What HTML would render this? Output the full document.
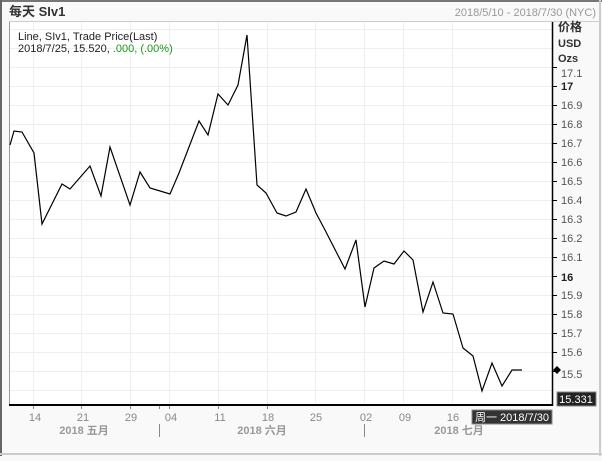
<!DOCTYPE html>
<html><head><meta charset="utf-8"><style>
body{margin:0;width:602px;height:456px;overflow:hidden;background:#f9f9f9;font-family:"Liberation Sans","Noto Sans CJK SC",sans-serif;}
</style></head><body>
<svg width="602" height="456" xmlns="http://www.w3.org/2000/svg" font-family="Liberation Sans, Noto Sans CJK SC, sans-serif">
<rect x="0" y="0" width="602" height="456" fill="#f9f9f9"/>
<rect x="0" y="0" width="602" height="2" fill="#777"/>
<rect x="0" y="0" width="2" height="456" fill="#666"/>
<rect x="0" y="453" width="602" height="2" fill="#ccc"/>
<rect x="599" y="0" width="2" height="456" fill="#ccc"/>
<text x="9" y="16" font-size="13" font-weight="bold" fill="#333">每天 SIv1</text>
<text x="596" y="16" font-size="11" fill="#999" text-anchor="end">2018/5/10 - 2018/7/30 (NYC)</text>
<line x1="9" y1="21.5" x2="599" y2="21.5" stroke="#ccc"/>
<rect x="9" y="22" width="543" height="383" fill="#fff"/>
<g stroke="#efefef" stroke-width="1">
<line x1="9" x2="552" y1="29.5" y2="29.5"/><line x1="9" x2="552" y1="48.5" y2="48.5"/><line x1="9" x2="552" y1="67.5" y2="67.5"/><line x1="9" x2="552" y1="86.5" y2="86.5"/><line x1="9" x2="552" y1="105.5" y2="105.5"/><line x1="9" x2="552" y1="124.5" y2="124.5"/><line x1="9" x2="552" y1="143.5" y2="143.5"/><line x1="9" x2="552" y1="162.5" y2="162.5"/><line x1="9" x2="552" y1="181.5" y2="181.5"/><line x1="9" x2="552" y1="200.5" y2="200.5"/><line x1="9" x2="552" y1="219.5" y2="219.5"/><line x1="9" x2="552" y1="238.5" y2="238.5"/><line x1="9" x2="552" y1="257.5" y2="257.5"/><line x1="9" x2="552" y1="276.5" y2="276.5"/><line x1="9" x2="552" y1="295.5" y2="295.5"/><line x1="9" x2="552" y1="314.5" y2="314.5"/><line x1="9" x2="552" y1="333.5" y2="333.5"/><line x1="9" x2="552" y1="352.5" y2="352.5"/><line x1="9" x2="552" y1="371.5" y2="371.5"/><line x1="9" x2="552" y1="390.5" y2="390.5"/>
<line x1="33.5" x2="33.5" y1="22" y2="405"/><line x1="81.5" x2="81.5" y1="22" y2="405"/><line x1="130.5" x2="130.5" y1="22" y2="405"/><line x1="169.5" x2="169.5" y1="22" y2="405"/><line x1="218.5" x2="218.5" y1="22" y2="405"/><line x1="267.5" x2="267.5" y1="22" y2="405"/><line x1="315.5" x2="315.5" y1="22" y2="405"/><line x1="364.5" x2="364.5" y1="22" y2="405"/><line x1="403.5" x2="403.5" y1="22" y2="405"/><line x1="452.5" x2="452.5" y1="22" y2="405"/>
</g>
<line x1="9.5" y1="22" x2="9.5" y2="405" stroke="#999"/>
<line x1="9" y1="405" x2="553" y2="405" stroke="#000" stroke-width="2"/>
<line x1="552.5" y1="22" x2="552.5" y2="406" stroke="#000" stroke-width="1.5"/>
<text x="18" y="40" font-size="11" fill="#222">Line, SIv1, Trade Price(Last)</text>
<text x="18" y="52" font-size="11" fill="#222">2018/7/25, 15.520, <tspan fill="#1a9a1a">.000, (.00%)</tspan></text>
<polyline fill="none" stroke="#000" stroke-width="1.2" points="10,145 14,131 22,132 34,153 42,224 62,184 70,189 90,166 101,196 110,147 130,205 140,172 150,188 170,194 179,173 199,121 208,135 218,94 228,105 238,85 247,35 257,185 266,193 277,213 286,216 296,212 306,189 316,213 325,230 345,269 356,240 365,307 374,268 384,261 394,264 404,251 413,260 423,312 433,282 443,313 453,314 463,348 473,356 482,391 492,363 502,386 512,370 522,370"/>
<g font-size="11" fill="#444">
<text x="558" y="31" font-size="12" font-weight="bold" fill="#333">价格</text>
<text x="558" y="47" font-weight="bold" fill="#333">USD</text>
<text x="558" y="62" font-weight="bold" fill="#333">Ozs</text>
</g>
<g font-size="11" fill="#555">
<g stroke="#000"><line x1="553" x2="557" y1="67.5" y2="67.5"/><line x1="553" x2="557" y1="86.5" y2="86.5"/><line x1="553" x2="557" y1="105.5" y2="105.5"/><line x1="553" x2="557" y1="124.5" y2="124.5"/><line x1="553" x2="557" y1="143.5" y2="143.5"/><line x1="553" x2="557" y1="162.5" y2="162.5"/><line x1="553" x2="557" y1="181.5" y2="181.5"/><line x1="553" x2="557" y1="200.5" y2="200.5"/><line x1="553" x2="557" y1="219.5" y2="219.5"/><line x1="553" x2="557" y1="238.5" y2="238.5"/><line x1="553" x2="557" y1="257.5" y2="257.5"/><line x1="553" x2="557" y1="276.5" y2="276.5"/><line x1="553" x2="557" y1="295.5" y2="295.5"/><line x1="553" x2="557" y1="314.5" y2="314.5"/><line x1="553" x2="557" y1="333.5" y2="333.5"/><line x1="553" x2="557" y1="352.5" y2="352.5"/><line x1="553" x2="557" y1="371.5" y2="371.5"/></g>
<text x="561" y="77">17.1</text>
<text x="561" y="90" font-weight="bold" fill="#222">17</text>
<text x="561" y="109">16.9</text>
<text x="561" y="128">16.8</text>
<text x="561" y="147">16.7</text>
<text x="561" y="166">16.6</text>
<text x="561" y="185">16.5</text>
<text x="561" y="204">16.4</text>
<text x="561" y="223">16.3</text>
<text x="561" y="242">16.2</text>
<text x="561" y="261">16.1</text>
<text x="561" y="281" font-weight="bold" fill="#222">16</text>
<text x="561" y="299">15.9</text>
<text x="561" y="318">15.8</text>
<text x="561" y="337">15.7</text>
<text x="561" y="356">15.6</text>
<text x="561" y="378">15.5</text>
</g>
<path d="M557,366 L561,370 L557,374 L553,370Z" fill="#000"/>
<rect x="557" y="392" width="39" height="14" fill="#222" stroke="#888"/>
<text x="576" y="403" font-size="11" fill="#fff" text-anchor="middle">15.331</text>
<g font-size="11" fill="#888" text-anchor="middle">
<text x="35" y="421">14</text><text x="83" y="421">21</text><text x="131" y="421">29</text><text x="171" y="421">04</text><text x="220" y="421">11</text><text x="268" y="421">18</text><text x="316" y="421">25</text><text x="366" y="421">02</text><text x="405" y="421">09</text><text x="453" y="421">16</text>
</g>
<g stroke="#888"><line x1="33.5" x2="33.5" y1="406" y2="409"/><line x1="81.5" x2="81.5" y1="406" y2="409"/><line x1="130.5" x2="130.5" y1="406" y2="409"/><line x1="159.5" x2="159.5" y1="406" y2="409"/><line x1="169.5" x2="169.5" y1="406" y2="409"/><line x1="218.5" x2="218.5" y1="406" y2="409"/><line x1="267.5" x2="267.5" y1="406" y2="409"/><line x1="159.5" x2="159.5" y1="424" y2="437"/><line x1="364.5" x2="364.5" y1="424" y2="437"/></g>
<g font-size="11" font-weight="bold" fill="#999" text-anchor="middle">
<text x="84" y="434">2018 五月</text><text x="262" y="434">2018 六月</text><text x="459" y="434">2018 七月</text>
</g>
<rect x="472" y="410" width="80" height="14" fill="#333" stroke="#888"/>
<text x="512" y="421" font-size="11" fill="#fff" text-anchor="middle">周一 2018/7/30</text>
</svg>
</body></html>
